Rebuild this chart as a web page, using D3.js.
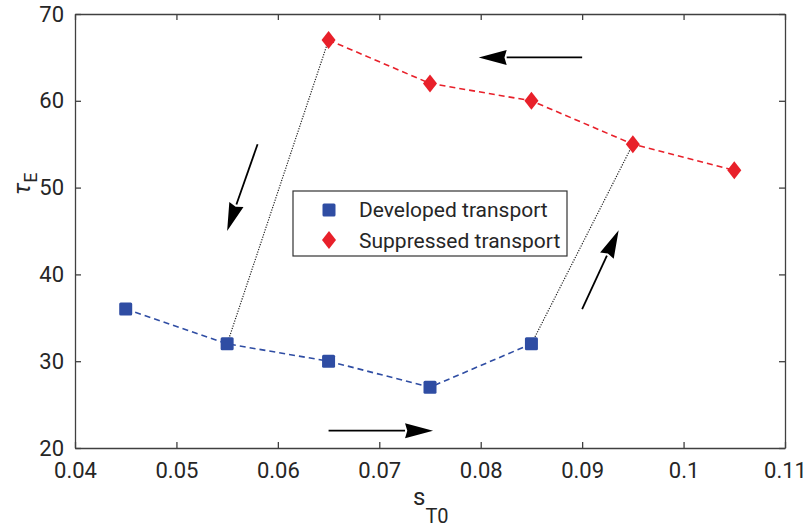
<!DOCTYPE html>
<html>
<head>
<meta charset="utf-8">
<script src="https://cdn.jsdelivr.net/npm/d3@7"></script>
<style>
  body { margin: 0; background: #fff; }
  text { font-family: Roboto, "Noto Sans", sans-serif; fill: #262626; }
</style>
</head>
<body>
<svg id="chart" width="807" height="530"></svg>
<script>
'use strict';

// data
var developedX = [0.045, 0.055, 0.065, 0.075, 0.085];
var developedY = [36, 32, 30, 27, 32];
var suppressedX = [0.065, 0.075, 0.085, 0.095, 0.105];
var suppressedY = [67, 62, 60, 55, 52];

// transitions between branches (dotted)
var jumps = [
  [[0.055, 32], [0.065, 67]],
  [[0.085, 32], [0.095, 55]]
];

// arrows in data coords: [from, to]
var arrows = [
  [[0.090, 65], [0.0798, 65]],
  [[0.058, 55], [0.055, 45]],
  [[0.065, 22], [0.0753, 22]],
  [[0.090, 36], [0.0936, 45.1]]
];

var xTicks = [0.04, 0.05, 0.06, 0.07, 0.08, 0.09, 0.1, 0.11];
var yTicks = [20, 30, 40, 50, 60, 70];

var margins = { top: 14, right: 22, bottom: 82, left: 75 };
var width = 807, height = 530;
var chartW = width - margins.left - margins.right;
var chartH = height - margins.top - margins.bottom;

var axisColor = '#404040';
var blue = '#2f4da3';
var red = '#e8202a';

var svg = d3.select('#chart');
var g = svg.append('g').attr('transform', 'translate(' + margins.left + ',' + margins.top + ')');

var x = d3.scaleLinear().domain([0.04, 0.11]).range([0, chartW]);
var y = d3.scaleLinear().domain([20, 70]).range([chartH, 0]);

// axes, ticks inward on all four sides
var fmt = function (d) { return d3.format('')(+d.toFixed(2)); };
function styleAxis(sel) {
  sel.selectAll('path').attr('stroke', axisColor).attr('stroke-width', 1.3);
  sel.selectAll('line').attr('stroke', axisColor).attr('stroke-width', 1.3);
  sel.selectAll('text').style('font-size', '22px').attr('fill', '#262626');
}

g.append('g').attr('transform', 'translate(0,' + chartH + ')')
  .call(d3.axisBottom(x).tickValues(xTicks).tickFormat(fmt).tickSizeInner(-6).tickSizeOuter(0).tickPadding(14))
  .call(styleAxis);
g.append('g')
  .call(d3.axisTop(x).tickValues(xTicks).tickFormat('').tickSizeInner(-6).tickSizeOuter(0))
  .call(styleAxis);
g.append('g')
  .call(d3.axisLeft(y).tickValues(yTicks).tickSizeInner(-6).tickSizeOuter(0).tickPadding(11))
  .call(styleAxis);
g.append('g').attr('transform', 'translate(' + chartW + ',0)')
  .call(d3.axisRight(y).tickValues(yTicks).tickFormat('').tickSizeInner(-6).tickSizeOuter(0))
  .call(styleAxis);

// axis labels
var xl = svg.append('text')
  .attr('x', 413).attr('y', 505)
  .style('font-size', '24px');
xl.append('tspan').text('s');
xl.append('tspan').attr('dy', 18).style('font-size', '20px').text('T0');

var yl = svg.append('text')
  .attr('transform', 'translate(30,195) rotate(-90)')
  .style('font-size', '24px');
yl.append('tspan').style('font-style', 'italic').text('τ');
yl.append('tspan').attr('dy', 7).style('font-size', '18px').text('E');

// dotted jump lines
var line = d3.line().x(function (d) { return x(d[0]); }).y(function (d) { return y(d[1]); });
g.selectAll('path.jump').data(jumps).enter().append('path')
  .attr('class', 'jump')
  .attr('d', line)
  .attr('fill', 'none').attr('stroke', '#222').attr('stroke-width', 1.2)
  .attr('stroke-dasharray', '1.2,1.4');

var devPts = developedX.map(function (d, i) { return [d, developedY[i]]; });
var supPts = suppressedX.map(function (d, i) { return [d, suppressedY[i]]; });

g.append('path').attr('d', line(devPts))
  .attr('fill', 'none').attr('stroke', blue).attr('stroke-width', 1.6)
  .attr('stroke-dasharray', '6,4');
g.append('path').attr('d', line(supPts))
  .attr('fill', 'none').attr('stroke', red).attr('stroke-width', 1.6)
  .attr('stroke-dasharray', '6,4');

var sq = 13;
g.selectAll('rect.dev').data(devPts).enter().append('rect')
  .attr('class', 'dev')
  .attr('x', function (d) { return x(d[0]) - sq / 2; })
  .attr('y', function (d) { return y(d[1]) - sq / 2; })
  .attr('width', sq).attr('height', sq).attr('rx', 1.5)
  .attr('fill', blue);

var dm = 9;
var diamond = 'M0,' + (-dm) + 'L' + (dm * 0.78) + ',0L0,' + dm + 'L' + (-dm * 0.78) + ',0Z';
g.selectAll('path.sup').data(supPts).enter().append('path')
  .attr('class', 'sup')
  .attr('transform', function (d) { return 'translate(' + x(d[0]) + ',' + y(d[1]) + ')'; })
  .attr('d', diamond)
  .attr('fill', red);

// arrows
arrows.forEach(function (a) {
  var x0 = x(a[0][0]), y0 = y(a[0][1]), x1 = x(a[1][0]), y1 = y(a[1][1]);
  var ang = Math.atan2(y1 - y0, x1 - x0);
  var headL = 28, headW = 7.5;
  var bx = x1 - headL * Math.cos(ang), by = y1 - headL * Math.sin(ang);
  g.append('line')
    .attr('x1', x0).attr('y1', y0).attr('x2', bx).attr('y2', by)
    .attr('stroke', '#000').attr('stroke-width', 1.8);
  var px = -Math.sin(ang) * headW, py = Math.cos(ang) * headW;
  g.append('path')
    .attr('d', 'M' + x1 + ',' + y1 + 'L' + (bx + px) + ',' + (by + py) +
      'L' + (bx + headL * 0.08 * Math.cos(ang)) + ',' + (by + headL * 0.08 * Math.sin(ang)) +
      'L' + (bx - px) + ',' + (by - py) + 'Z')
    .attr('fill', '#000');
});

// legend
var lg = svg.append('g').attr('transform', 'translate(293,191)');
lg.append('rect').attr('width', 274).attr('height', 65)
  .attr('fill', '#fff').attr('stroke', '#333').attr('stroke-width', 1.2);
lg.append('rect').attr('x', 36 - sq / 2).attr('y', 19 - sq / 2).attr('width', sq).attr('height', sq)
  .attr('rx', 1.5).attr('fill', blue);
lg.append('path').attr('transform', 'translate(36,49)').attr('d', diamond).attr('fill', red);
lg.append('text').attr('x', 66).attr('y', 26).style('font-size', '21px').text('Developed transport');
lg.append('text').attr('x', 66).attr('y', 57).style('font-size', '21px').text('Suppressed transport');
</script>
</body>
</html>
